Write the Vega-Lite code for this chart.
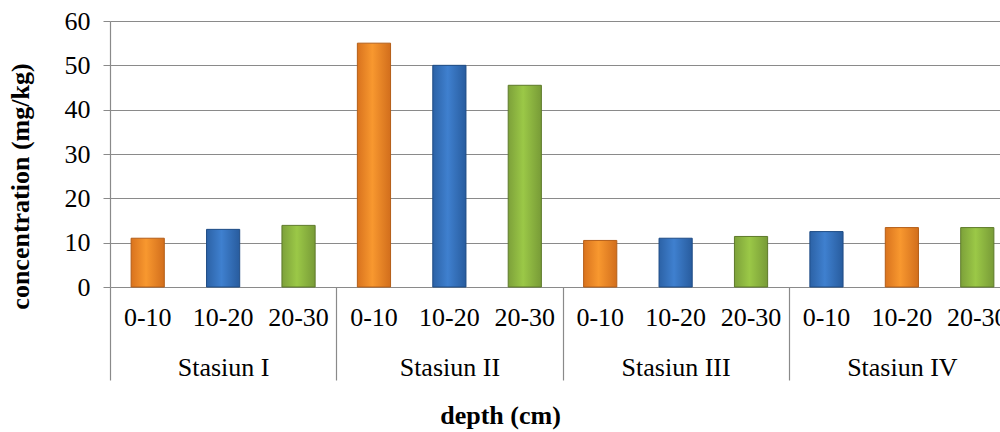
{
  "$schema": "https://vega.github.io/schema/vega-lite/v6.json",
  "autosize": "none",
  "width": 890,
  "height": 266,
  "padding": {"left": 110, "top": 21, "right": 0, "bottom": 145},
  "background": "white",
  "config": {
    "font": "Liberation Serif",
    "view": {"stroke": null}
  },
  "data": {
    "values": [
      {"station": "Stasiun I", "depth": "0-10", "key": "I|0-10", "series": "1", "conc": 11.0},
      {"station": "Stasiun I", "depth": "10-20", "key": "I|10-20", "series": "2", "conc": 13.0},
      {"station": "Stasiun I", "depth": "20-30", "key": "I|20-30", "series": "3", "conc": 13.9},
      {"station": "Stasiun II", "depth": "0-10", "key": "II|0-10", "series": "1", "conc": 55.0},
      {"station": "Stasiun II", "depth": "10-20", "key": "II|10-20", "series": "2", "conc": 50.0},
      {"station": "Stasiun II", "depth": "20-30", "key": "II|20-30", "series": "3", "conc": 45.5},
      {"station": "Stasiun III", "depth": "0-10", "key": "III|0-10", "series": "1", "conc": 10.5},
      {"station": "Stasiun III", "depth": "10-20", "key": "III|10-20", "series": "2", "conc": 11.0},
      {"station": "Stasiun III", "depth": "20-30", "key": "III|20-30", "series": "3", "conc": 11.4},
      {"station": "Stasiun IV", "depth": "0-10", "key": "IV|0-10", "series": "2", "conc": 12.5},
      {"station": "Stasiun IV", "depth": "10-20", "key": "IV|10-20", "series": "1", "conc": 13.4},
      {"station": "Stasiun IV", "depth": "20-30", "key": "IV|20-30", "series": "3", "conc": 13.4}
    ]
  },
  "layer": [
    {
      "mark": {"type": "bar", "strokeWidth": 1},
      "encoding": {
        "x": {
          "field": "key",
          "type": "nominal",
          "sort": null,
          "scale": {"range": [0, 905], "paddingInner": 0.56, "paddingOuter": 0.28},
          "axis": {
            "orient": "bottom",
            "title": null,
            "domain": false,
            "ticks": false,
            "tickSize": 0,
            "labelAngle": 0,
            "labelPadding": 17,
            "labelFontSize": 26,
            "labelColor": "#000000",
            "labelExpr": "split(datum.value, '|')[1]"
          }
        },
        "y": {
          "field": "conc",
          "type": "quantitative",
          "scale": {"domain": [0, 60], "nice": false},
          "axis": {
            "values": [0, 10, 20, 30, 40, 50, 60],
            "title": "concentration  (mg/kg)",
            "titleFontSize": 26,
            "titleFontWeight": "bold",
            "titleColor": "#000000",
            "titleBaseline": "middle",
            "titleAlign": "center",
            "titleX": -90,
            "titleY": 165,
            "labelFontSize": 26,
            "labelColor": "#000000",
            "labelPadding": 13,
            "tickSize": 7,
            "tickColor": "#8A8A8A",
            "domainColor": "#8A8A8A",
            "domainWidth": 1.2,
            "gridColor": "#8A8A8A",
            "gridOpacity": 1,
            "gridWidth": 1.2
          }
        },
        "fill": {
          "condition": [
            {"test": "datum.series === '1'", "value": {"gradient": "linear", "x1": 0, "x2": 1, "y1": 0, "y2": 0, "stops": [{"offset": 0, "color": "#D9731E"}, {"offset": 0.45, "color": "#F8982F"}, {"offset": 1, "color": "#D26E1C"}]}},
            {"test": "datum.series === '2'", "value": {"gradient": "linear", "x1": 0, "x2": 1, "y1": 0, "y2": 0, "stops": [{"offset": 0, "color": "#2C62A6"}, {"offset": 0.45, "color": "#3F80CF"}, {"offset": 1, "color": "#285C9E"}]}}
          ],
          "value": {"gradient": "linear", "x1": 0, "x2": 1, "y1": 0, "y2": 0, "stops": [{"offset": 0, "color": "#7DA13A"}, {"offset": 0.45, "color": "#9BC847"}, {"offset": 1, "color": "#789B37"}]}
        },
        "stroke": {
          "condition": [
            {"test": "datum.series === '1'", "value": "#B45E18"},
            {"test": "datum.series === '2'", "value": "#1F4C85"}
          ],
          "value": "#5E7A2A"
        }
      }
    },
    {
      "mark": {"type": "point", "opacity": 0},
      "encoding": {
        "x": {
          "field": "station",
          "type": "nominal",
          "sort": null,
          "scale": {"range": [0, 905], "paddingInner": 0, "paddingOuter": 0},
          "axis": {
            "orient": "bottom",
            "domain": false,
            "tickBand": "extent",
            "tickSize": 93,
            "tickColor": "#8A8A8A",
            "tickWidth": 1.2,
            "labelAngle": 0,
            "labelPadding": -26,
            "labelFontSize": 26,
            "labelColor": "#000000",
            "title": "depth (cm)",
            "titleFontSize": 26,
            "titleFontWeight": "bold",
            "titleColor": "#000000",
            "titleX": 390,
            "titleY": 128,
            "titleBaseline": "middle",
            "titleAnchor": null
          }
        }
      }
    }
  ],
  "resolve": {"scale": {"x": "independent"}, "axis": {"x": "independent"}}
}
